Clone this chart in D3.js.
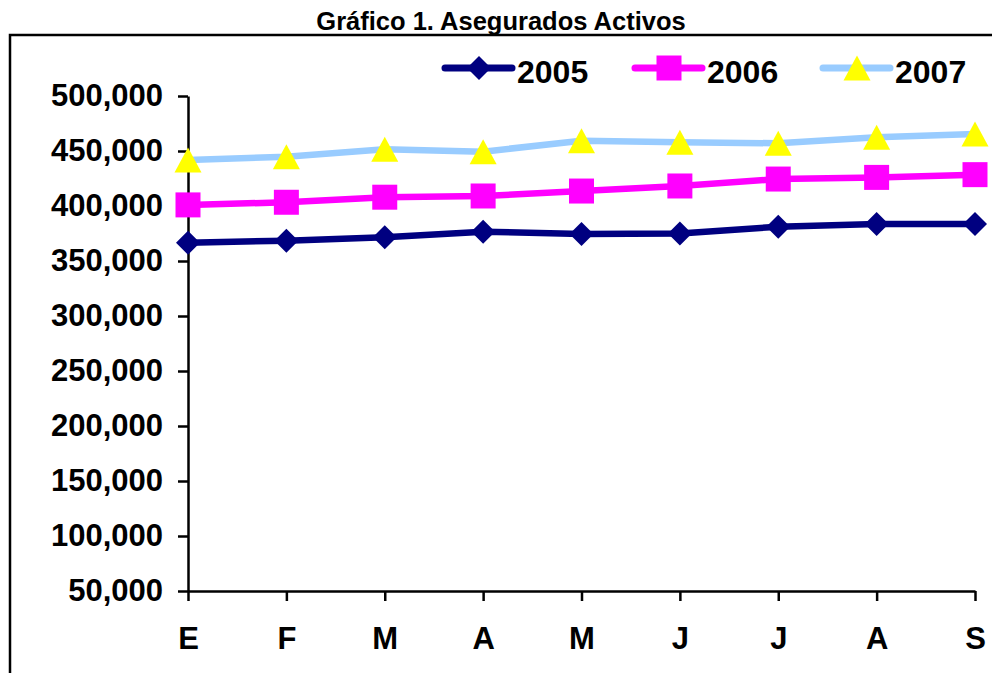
<!DOCTYPE html>
<html>
<head>
<meta charset="utf-8">
<script src="https://cdn.jsdelivr.net/npm/d3@7"></script>
<style>
  body { margin: 0; background: #ffffff; }
  text { font-family: "Liberation Sans", Arial, sans-serif; font-weight: bold; }
</style>
</head>
<body>
<svg id="canvas"></svg>
<script>
// Chart data.
var months = ['E', 'F', 'M', 'A', 'M', 'J', 'J', 'A', 'S'];
var years = ['2005', '2006', '2007'];
var values2005 = [366600, 368500, 371500, 376600, 374500, 375000, 381200, 383600, 383600];
var values2006 = [401000, 403400, 408000, 409100, 413600, 418200, 424500, 426000, 428500];
var values2007 = [441800, 444800, 451500, 449400, 459400, 458000, 457000, 462500, 465500];
var yTicks = [50000, 100000, 150000, 200000, 250000, 300000, 350000, 400000, 450000, 500000];

// Canvas settings.
var canvas = { w: 992, h: 673 };

// Series styles.
var series = [
  { name: years[0], values: values2005, line: '#000080', marker: 'diamond', fill: '#000080' },
  { name: years[1], values: values2006, line: '#FF00FF', marker: 'square', fill: '#FF00FF' },
  { name: years[2], values: values2007, line: '#99CCFF', marker: 'triangle', fill: '#FFFF00' }
];

// Marker path around a centre point.
var markerPath = function(type, cx, cy) {
  if (type === 'diamond') {
    var r = 12;
    return 'M' + cx + ',' + (cy - r) + 'L' + (cx + r) + ',' + cy + 'L' + cx + ',' + (cy + r) + 'L' + (cx - r) + ',' + cy + 'Z';
  }
  if (type === 'square') {
    var s = 12.5;
    return 'M' + (cx - s) + ',' + (cy - s) + 'h' + (2 * s) + 'v' + (2 * s) + 'h' + (-2 * s) + 'Z';
  }
  var hw = 13.5, hh = 12.5;
  return 'M' + cx + ',' + (cy - hh) + 'L' + (cx + hw) + ',' + (cy + hh) + 'L' + (cx - hw) + ',' + (cy + hh) + 'Z';
};

var svg = d3.select('#canvas')
            .attr('width', canvas.w)
            .attr('height', canvas.h);

// Title.
svg.append('text')
   .attr('x', 501)
   .attr('y', 30)
   .attr('text-anchor', 'middle')
   .attr('font-size', 25.5)
   .text('Gráfico 1. Asegurados Activos');

// Frame (top and left edges visible).
svg.append('path')
   .attr('d', 'M10,' + canvas.h + 'V35H' + canvas.w)
   .attr('fill', 'none')
   .attr('stroke', '#000')
   .attr('stroke-width', 2.5);

// Scales.
var x = d3.scalePoint()
          .domain(d3.range(months.length))
          .range([188, 975]);

var y = d3.scaleLinear()
          .domain([50000, 500000])
          .range([591, 96]);

// Axes.
var yAxis = svg.append('g')
               .attr('transform', 'translate(188,0)')
               .call(d3.axisLeft(y)
                       .tickValues(yTicks)
                       .tickSize(10)
                       .tickPadding(15)
                       .tickSizeOuter(0)
                       .tickFormat(d3.format(',')));

var xAxis = svg.append('g')
               .attr('transform', 'translate(0,591)')
               .call(d3.axisBottom(x)
                       .tickSize(10)
                       .tickPadding(26)
                       .tickSizeOuter(0)
                       .tickFormat(function(i) { return months[i]; }));

[yAxis, xAxis].forEach(function(a) {
  a.select('.domain').attr('stroke', '#000').attr('stroke-width', 2.5);
  a.selectAll('.tick line').attr('stroke', '#000').attr('stroke-width', 2.5);
  a.selectAll('.tick text')
   .attr('fill', '#000')
   .attr('font-size', 31)
   .attr('font-family', '"Liberation Sans", Arial, sans-serif')
   .attr('font-weight', 'bold');
});

// Lines and markers.
var line = d3.line()
             .x(function(d, i) { return x(i); })
             .y(function(d) { return y(d); });

series.forEach(function(s) {
  var g = svg.append('g');

  g.append('path')
   .datum(s.values)
   .attr('d', line)
   .attr('fill', 'none')
   .attr('stroke', s.line)
   .attr('stroke-width', 6.5)
   .attr('stroke-linejoin', 'round');

  g.selectAll('path.marker')
   .data(s.values)
   .enter()
   .append('path')
   .attr('class', 'marker')
   .attr('d', function(d, i) { return markerPath(s.marker, x(i), y(d)); })
   .attr('fill', s.fill);
});

// Legend.
var legendX = [445, 635, 823];
var legend = svg.append('g');

series.forEach(function(s, i) {
  var lx = legendX[i];
  legend.append('line')
        .attr('x1', lx)
        .attr('x2', lx + 67)
        .attr('y1', 68)
        .attr('y2', 68)
        .attr('stroke', s.line)
        .attr('stroke-width', 7)
        .attr('stroke-linecap', 'round');
  legend.append('path')
        .attr('d', markerPath(s.marker, lx + 34, 68))
        .attr('fill', s.fill);
  legend.append('text')
        .attr('x', lx + 72)
        .attr('y', 83)
        .attr('font-size', 32)
        .text(s.name);
});
</script>
</body>
</html>
